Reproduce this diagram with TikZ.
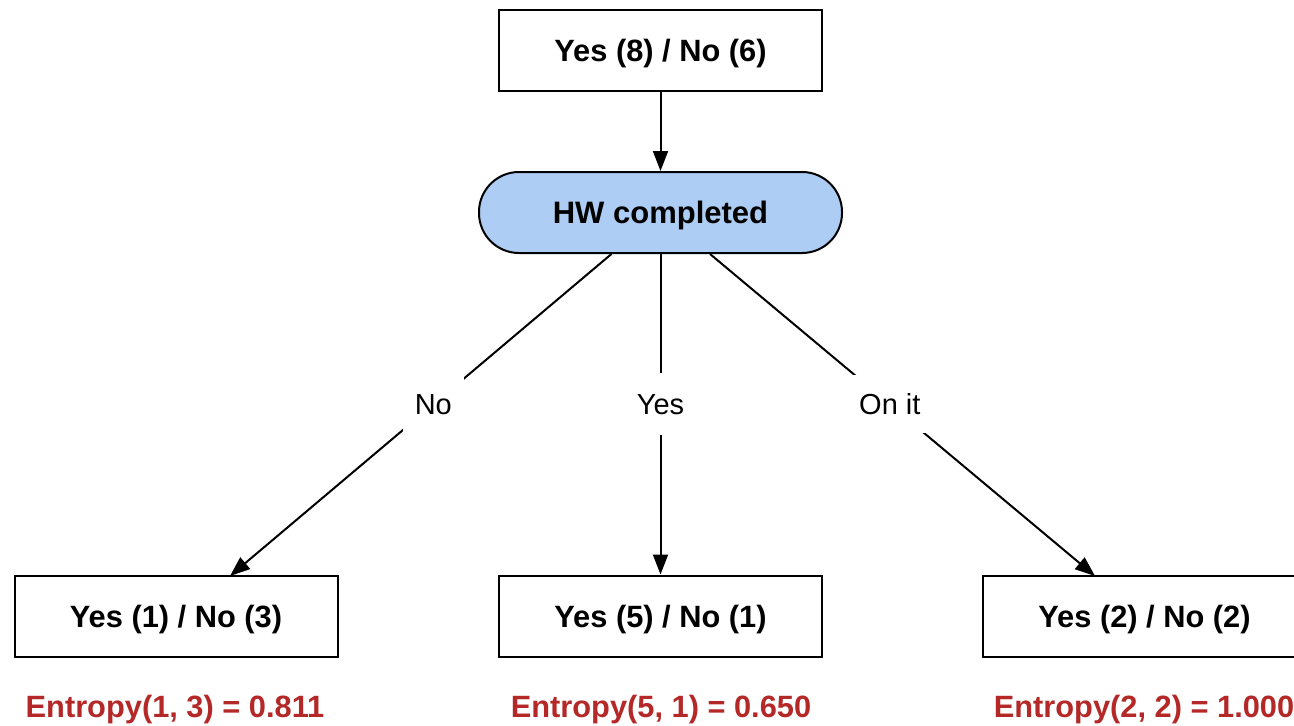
\documentclass[tikz,border=0pt]{standalone}
\usepackage{fontspec}
\setmainfont{Liberation Sans}
\usetikzlibrary{arrows.meta}
\definecolor{entred}{RGB}{180,40,40}
\definecolor{hwblue}{RGB}{174,205,244}
\tikzset{
  countbox/.style={draw=black, line width=2pt, minimum width=323pt, minimum height=81pt, inner sep=0pt, text height=22pt, text depth=0pt, font=\fontsize{30.8}{36}\selectfont\bfseries},
  splitnode/.style={draw=black, fill=hwblue, line width=2pt, rounded corners=40pt, minimum width=363pt, minimum height=81pt, inner sep=0pt, text height=22pt, text depth=0pt, font=\fontsize{31}{36}\selectfont\bfseries},
  branchlab/.style={fill=white, inner xsep=12pt, inner ysep=0pt, minimum height=58pt, text height=21pt, text depth=0pt, font=\fontsize{29}{34}\selectfont},
  enttext/.style={text=entred, inner sep=0pt, text height=22pt, text depth=0pt, font=\fontsize{30.8}{36}\selectfont\bfseries},
  conn/.style={line width=2pt, -{Triangle[length=20pt,width=15pt]}}
}
\begin{document}
\begin{tikzpicture}[x=1pt,y=-1pt]
\useasboundingbox (0,0) rectangle (1294,726);
\node[countbox] (top) at (660.5,50.5) {Yes (8) / No (6)};
\node[splitnode] (hw) at (660.5,212.5) {HW completed};
\node[countbox] (lbox) at (176,616) {Yes (1) / No (3)};
\node[countbox] (mbox) at (660.5,616) {Yes (5) / No (1)};
\node[countbox] (rbox) at (1144.5,616) {Yes (2) / No (2)};
\coordinate (lend) at (230,576);
\coordinate (rend) at (1095,576);
\draw[conn] (top) -- (hw);
\draw[conn] (hw) -- node[branchlab, pos=0.467] (lno) {No} (lend);
\draw[conn] (hw) -- node[branchlab, pos=0.467, minimum height=62pt] (lyes) {Yes} (mbox);
\draw[conn] (hw) -- node[branchlab, pos=0.467] (lon) {On it} (rend);
\node[enttext] (e1) at (175,706) {Entropy(1, 3) = 0.811};
\node[enttext] (e2) at (661,706) {Entropy(5, 1) = 0.650};
\node[enttext] (e3) at (1144,706) {Entropy(2, 2) = 1.000};
\end{tikzpicture}
\end{document}
